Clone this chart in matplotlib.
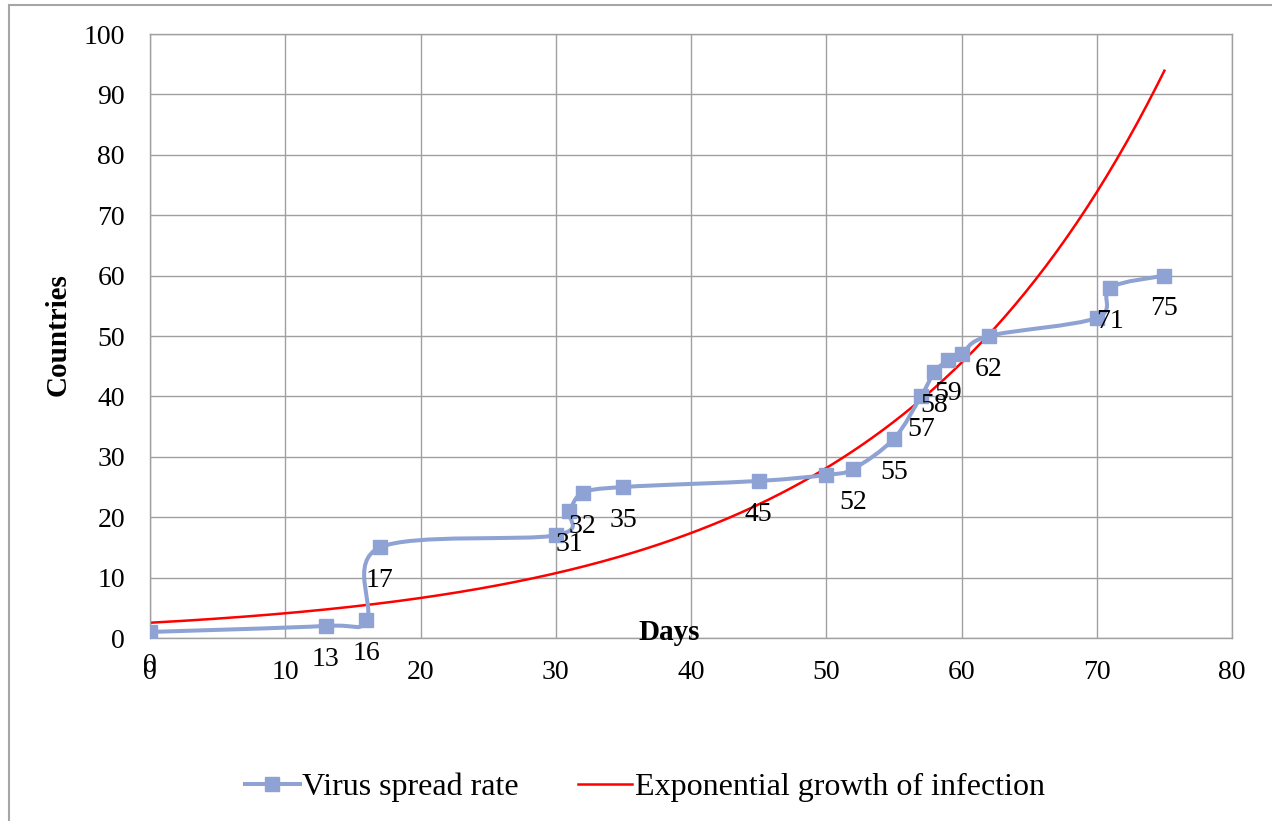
import numpy as np
import matplotlib
matplotlib.use("Agg")
from matplotlib import pyplot as plt
from matplotlib.path import Path
from matplotlib.patches import PathPatch, Rectangle
from matplotlib.lines import Line2D

# data
days = [0, 13, 16, 17, 30, 31, 32, 35, 45, 50, 52, 55, 57, 58, 59, 60, 62, 70, 71, 75]
countries = [1, 2, 3, 15, 17, 21, 24, 25, 26, 27, 28, 33, 40, 44, 46, 47, 50, 53, 58, 60]
point_labels = ["0", "13", "16", "17", "", "31", "32", "35", "45", "", "52", "55",
                "57", "58", "59", "", "62", "", "71", "75"]
x_ticks = [0, 10, 20, 30, 40, 50, 60, 70, 80]
y_ticks = [0, 10, 20, 30, 40, 50, 60, 70, 80, 90, 100]

blue = "#8FA2D4"
red = "#FF0000"
grid_col = "#A0A0A0"
plt.rcParams['font.family'] = ['Liberation Serif', 'DejaVu Serif']
fs = 20

fig = plt.figure(figsize=(12.72, 8.21), dpi=100)
ax = fig.add_axes([150/1272, 1-638/821, (1232-150)/1272, (638-34)/821])

# smoothed line like excel (bezier through the points)
pts = np.column_stack([days, countries]).astype(float)
n = len(pts)
verts = [pts[0]]
codes = [Path.MOVETO]
for i in range(n-1):
    p0 = pts[max(i-1, 0)]
    p1 = pts[i]
    p2 = pts[i+1]
    p3 = pts[min(i+2, n-1)]
    verts += [p1 + (p2-p0)/6, p2 - (p3-p1)/6, p2]
    codes += [Path.CURVE4]*3
ax.add_patch(PathPatch(Path(verts, codes), fill=False, edgecolor=blue, lw=2.9,
                       capstyle='round', joinstyle='round', zorder=3))
ax.plot(days, countries, 's', color=blue, ms=10, zorder=4)

for d, c, lab in zip(days, countries, point_labels):
    if lab:
        ax.annotate(lab, (d, c), xytext=(0, -24), textcoords='offset points',
                    ha='center', va='center', fontsize=fs, zorder=5)

# exponential trendline
b, lna = np.polyfit(days, np.log(countries), 1)
xt = np.linspace(0, max(days), 300)
ax.plot(xt, np.exp(lna)*np.exp(b*xt), color=red, lw=1.8, zorder=2)

ax.set_xlim(0, 80)
ax.set_ylim(0, 100)
ax.set_xticks(x_ticks)
ax.set_yticks(y_ticks)
ax.grid(True, color=grid_col, lw=1.0)
ax.set_axisbelow(True)
for s in ax.spines.values():
    s.set_color(grid_col)
    s.set_linewidth(1.0)
ax.tick_params(axis='both', length=0, labelsize=fs)
ax.tick_params(axis='x', pad=16)
ax.tick_params(axis='y', pad=18)

fig.text(669/1272, 1-632/821, "Days", fontsize=21, fontweight='bold', ha='center', va='center')
fig.text(58/1272, 1-335/821, "Countries", fontsize=21, fontweight='bold', ha='center', va='center',
         rotation=90)

handles = [Line2D([], [], color=blue, lw=2.9, marker='s', ms=10),
           Line2D([], [], color=red, lw=1.8)]
fig.legend(handles, ["Virus spread rate", "Exponential growth of infection"], loc='center',
           bbox_to_anchor=(645/1272, 1-787/821), ncol=2, frameon=False, fontsize=23,
           handlelength=1.7, columnspacing=1.85, handletextpad=0.08)

fig.patches.append(Rectangle((9/1272, -0.1), 2, 1.1-5/821, transform=fig.transFigure,
                             fill=False, edgecolor="#A6A6A6", lw=1.5))

fig.savefig("out.png", dpi=100)
